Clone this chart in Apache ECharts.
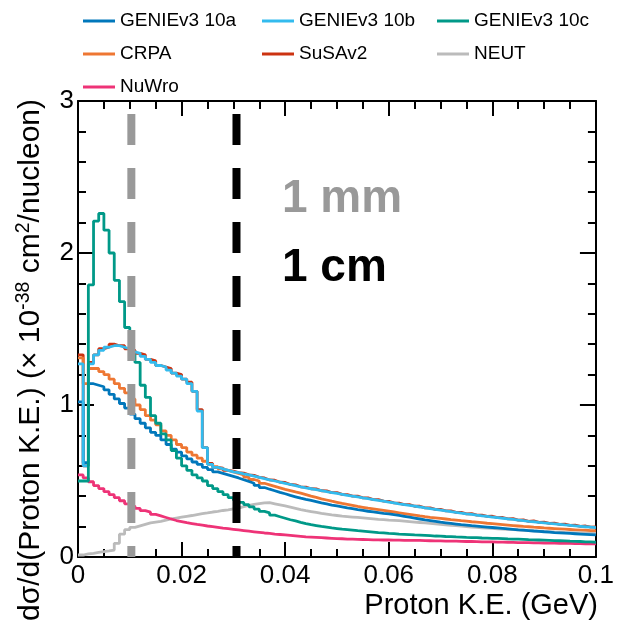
<!DOCTYPE html>
<html>
<head>
<meta charset="utf-8">
<script src="https://cdn.jsdelivr.net/npm/echarts@6/dist/echarts.min.js"></script>
<style>
  html, body { margin: 0; padding: 0; background: #fff; }
  #chart { width: 617px; height: 624px; }
</style>
</head>
<body>
<div id="chart"></div>
<script>
// Proton kinetic energy histogram: 100 bins of 1 MeV from 0 to 0.1 GeV
const binLow = 0.0;
const binHigh = 0.1;
const nBins = 100;

// Differential cross sections, 10^-38 cm^2 / nucleon / GeV
const genie10a = [
  1.02, 0.62, 1.14, 1.13, 1.12, 1.10, 1.07, 1.04, 1.01, 0.98,
  0.94, 0.91, 0.88, 0.85, 0.82, 0.80, 0.77, 0.74, 0.71, 0.69,
  0.665, 0.645, 0.625, 0.61, 0.59, 0.575, 0.56, 0.55, 0.54, 0.53,
  0.52, 0.508, 0.497, 0.485, 0.471, 0.457, 0.446, 0.436, 0.425, 0.416,
  0.405, 0.396, 0.387, 0.379, 0.372, 0.364, 0.356, 0.349, 0.342, 0.336,
  0.33, 0.323, 0.318, 0.312, 0.307, 0.301, 0.297, 0.292, 0.287, 0.283,
  0.279, 0.274, 0.268, 0.262, 0.256, 0.25, 0.244, 0.239, 0.234, 0.229,
  0.225, 0.221, 0.217, 0.213, 0.21, 0.206, 0.203, 0.2, 0.197, 0.194,
  0.191, 0.188, 0.185, 0.182, 0.179, 0.177, 0.174, 0.171, 0.169, 0.166,
  0.164, 0.161, 0.159, 0.157, 0.155, 0.153, 0.151, 0.149, 0.147, 0.145
];
const genie10b = [
  1.27, 0.60, 1.27, 1.33, 1.36, 1.38, 1.39, 1.39, 1.38, 1.37,
  1.35, 1.34, 1.32, 1.30, 1.28, 1.26, 1.25, 1.23, 1.21, 1.19,
  1.17, 1.14, 1.09, 0.96, 0.72, 0.61, 0.59, 0.58, 0.57, 0.56,
  0.555, 0.547, 0.54, 0.532, 0.524, 0.515, 0.507, 0.50, 0.492, 0.485,
  0.477, 0.47, 0.462, 0.455, 0.449, 0.443, 0.436, 0.43, 0.424, 0.418,
  0.412, 0.406, 0.40, 0.395, 0.389, 0.384, 0.378, 0.372, 0.367, 0.361,
  0.356, 0.35, 0.345, 0.339, 0.334, 0.329, 0.323, 0.318, 0.313, 0.308,
  0.303, 0.298, 0.293, 0.289, 0.284, 0.28, 0.275, 0.271, 0.267, 0.263,
  0.259, 0.255, 0.251, 0.247, 0.243, 0.239, 0.235, 0.232, 0.228, 0.225,
  0.221, 0.218, 0.215, 0.211, 0.208, 0.205, 0.202, 0.199, 0.196, 0.193
];
const genie10c = [
  0.50, 0.50, 1.79, 2.21, 2.26, 2.15, 2.00, 1.82, 1.68, 1.51,
  1.33, 1.28, 1.13, 1.05, 0.93, 0.88, 0.81, 0.77, 0.70, 0.65,
  0.60, 0.57, 0.54, 0.52, 0.50, 0.47, 0.45, 0.43, 0.41, 0.39,
  0.375, 0.36, 0.345, 0.33, 0.315, 0.30, 0.29, 0.275, 0.265, 0.255,
  0.245, 0.237, 0.228, 0.22, 0.213, 0.207, 0.201, 0.196, 0.191, 0.187,
  0.183, 0.18, 0.177, 0.173, 0.17, 0.167, 0.164, 0.161, 0.159, 0.156,
  0.154, 0.151, 0.149, 0.147, 0.145, 0.144, 0.142, 0.14, 0.138, 0.137,
  0.135, 0.134, 0.132, 0.131, 0.129, 0.128, 0.127, 0.125, 0.124, 0.123,
  0.122, 0.121, 0.119, 0.118, 0.117, 0.116, 0.114, 0.113, 0.112, 0.111,
  0.11, 0.108, 0.107, 0.106, 0.104, 0.103, 0.102, 0.1, 0.099, 0.097
];
const crpa = [
  1.31, 1.14, 1.24, 1.24, 1.22, 1.20, 1.17, 1.14, 1.11, 1.08,
  1.04, 1.00, 0.97, 0.93, 0.90, 0.87, 0.83, 0.80, 0.77, 0.74,
  0.72, 0.69, 0.67, 0.65, 0.63, 0.61, 0.595, 0.58, 0.57, 0.56,
  0.55, 0.54, 0.525, 0.51, 0.50, 0.485, 0.475, 0.465, 0.455, 0.445,
  0.437, 0.428, 0.42, 0.41, 0.40, 0.392, 0.383, 0.375, 0.367, 0.36,
  0.353, 0.347, 0.34, 0.333, 0.327, 0.321, 0.316, 0.311, 0.306, 0.301,
  0.296, 0.291, 0.286, 0.281, 0.276, 0.27, 0.265, 0.261, 0.258, 0.254,
  0.25, 0.246, 0.243, 0.239, 0.236, 0.232, 0.229, 0.226, 0.222, 0.219,
  0.216, 0.213, 0.21, 0.207, 0.204, 0.201, 0.199, 0.196, 0.194, 0.191,
  0.189, 0.187, 0.185, 0.183, 0.181, 0.179, 0.177, 0.176, 0.174, 0.173
];
const susav2 = [
  1.33, 0.60, 1.28, 1.33, 1.37, 1.38, 1.40, 1.39, 1.39, 1.37,
  1.36, 1.34, 1.33, 1.30, 1.29, 1.26, 1.25, 1.24, 1.21, 1.20,
  1.17, 1.15, 1.09, 0.97, 0.72, 0.615, 0.59, 0.585, 0.57, 0.565,
  0.555, 0.552, 0.54, 0.537, 0.524, 0.52, 0.507, 0.505, 0.492, 0.49,
  0.477, 0.475, 0.462, 0.46, 0.449, 0.448, 0.436, 0.435, 0.424, 0.423,
  0.412, 0.411, 0.40, 0.40, 0.389, 0.389, 0.378, 0.377, 0.367, 0.366,
  0.356, 0.355, 0.345, 0.344, 0.334, 0.334, 0.323, 0.323, 0.313, 0.313,
  0.303, 0.303, 0.293, 0.294, 0.284, 0.285, 0.275, 0.276, 0.267, 0.268,
  0.259, 0.26, 0.251, 0.252, 0.243, 0.244, 0.235, 0.237, 0.228, 0.23,
  0.221, 0.223, 0.215, 0.216, 0.208, 0.21, 0.202, 0.204, 0.196, 0.198
];
const neut = [
  0.013, 0.02, 0.024, 0.03, 0.035, 0.04, 0.046, 0.09, 0.15, 0.18,
  0.195, 0.205, 0.215, 0.225, 0.23, 0.235, 0.242, 0.25, 0.256, 0.262,
  0.268, 0.273, 0.279, 0.285, 0.29, 0.296, 0.30, 0.306, 0.31, 0.316,
  0.322, 0.331, 0.34, 0.346, 0.351, 0.356, 0.357, 0.35, 0.343, 0.336,
  0.328, 0.32, 0.312, 0.305, 0.299, 0.293, 0.287, 0.282, 0.277, 0.273,
  0.269, 0.266, 0.263, 0.26, 0.257, 0.254, 0.251, 0.248, 0.246, 0.243,
  0.241, 0.239, 0.236, 0.233, 0.23, 0.227, 0.224, 0.221, 0.218, 0.215,
  0.212, 0.209, 0.206, 0.203, 0.2, 0.197, 0.195, 0.192, 0.19, 0.188,
  0.186, 0.184, 0.182, 0.18, 0.178, 0.176, 0.174, 0.172, 0.17, 0.168,
  0.167, 0.165, 0.164, 0.162, 0.161, 0.159, 0.158, 0.157, 0.156, 0.155
];
const nuwro = [
  0.54, 0.52, 0.495, 0.47, 0.45, 0.43, 0.41, 0.39, 0.37, 0.35,
  0.335, 0.32, 0.305, 0.295, 0.28, 0.27, 0.26, 0.25, 0.24, 0.233,
  0.226, 0.22, 0.214, 0.209, 0.204, 0.2, 0.195, 0.19, 0.186, 0.182,
  0.178, 0.174, 0.17, 0.166, 0.162, 0.158, 0.155, 0.151, 0.148, 0.145,
  0.142, 0.139, 0.136, 0.133, 0.131, 0.129, 0.127, 0.125, 0.123, 0.121,
  0.12, 0.118, 0.117, 0.116, 0.115, 0.114, 0.113, 0.113, 0.112, 0.112,
  0.111, 0.111, 0.11, 0.11, 0.109, 0.109, 0.108, 0.107, 0.106, 0.106,
  0.105, 0.104, 0.104, 0.103, 0.102, 0.102, 0.101, 0.1, 0.1, 0.099,
  0.098, 0.098, 0.097, 0.096, 0.095, 0.095, 0.094, 0.093, 0.093, 0.092,
  0.091, 0.091, 0.09, 0.089, 0.089, 0.088, 0.088, 0.087, 0.086, 0.086
];

// Proton kinetic energy that corresponds to a 1 mm and a 1 cm track
const rangeMarkers = [
  { label: '1 mm', ke: 0.0103, color: '#999999' },
  { label: '1 cm', ke: 0.0306, color: '#000000' }
];
const markerTop = 2.915;

const xTicks = { min: 0, max: 0.1, interval: 0.02 };
const yTicks = { min: 0, max: 3, interval: 1 };

const models = [
  { name: 'SuSAv2',       data: susav2,   color: '#CC3311' },
  { name: 'CRPA',         data: crpa,     color: '#EE7733' },
  { name: 'NEUT',         data: neut,     color: '#BBBBBB' },
  { name: 'NuWro',        data: nuwro,    color: '#EE3377' },
  { name: 'GENIEv3 10a',  data: genie10a, color: '#0077BB' },
  { name: 'GENIEv3 10b',  data: genie10b, color: '#33BBEE' },
  { name: 'GENIEv3 10c',  data: genie10c, color: '#009988' }
];

const FONT = 'Liberation Sans, Arial, Helvetica, sans-serif';

function histPoints(values) {
  const w = (binHigh - binLow) / nBins;
  const pts = values.map((v, i) => [binLow + i * w, v]);
  pts.push([binHigh, values[values.length - 1]]);
  return pts;
}

const series = models.map((m, k) => ({
  name: m.name,
  type: 'line',
  step: 'end',
  symbol: 'none',
  silent: true,
  z: 2 + k,
  color: m.color,
  lineStyle: { color: m.color, width: 2.8 },
  data: histPoints(m.data)
}));

rangeMarkers.forEach((r) => {
  series.push({
    name: r.label,
    type: 'line',
    symbol: 'none',
    silent: true,
    z: 20,
    lineStyle: { color: r.color, width: 8, type: [31, 23], cap: 'butt' },
    data: [[r.ke, markerTop], [r.ke, 0]]
  });
});

// empty series bound to the mirrored top/right axes so their ticks are drawn
series.push({
  name: 'frame', type: 'line', xAxisIndex: 1, yAxisIndex: 1,
  symbol: 'none', silent: true, data: [], lineStyle: { width: 0 }
});

const frame = { show: true, onZero: false, lineStyle: { color: '#000', width: 2 } };

function xAxisDef(pos, labels) {
  return {
    type: 'value', position: pos,
    min: xTicks.min, max: xTicks.max, interval: xTicks.interval,
    axisLine: frame,
    axisTick: { show: true, inside: true, length: 15, lineStyle: { color: '#000', width: 2 } },
    minorTick: { show: true, splitNumber: 4, length: 8, lineStyle: { color: '#000', width: 2 } },
    splitLine: { show: false },
    axisLabel: { show: labels, color: '#000', fontSize: 26, fontFamily: FONT, margin: 6 }
  };
}
function yAxisDef(pos, labels) {
  return {
    type: 'value', position: pos,
    min: yTicks.min, max: yTicks.max, interval: yTicks.interval,
    axisLine: frame,
    axisTick: { show: true, inside: true, length: 16, lineStyle: { color: '#000', width: 2 } },
    minorTick: { show: true, splitNumber: 5, length: 8, lineStyle: { color: '#000', width: 2 } },
    splitLine: { show: false },
    axisLabel: { show: labels, color: '#000', fontSize: 26, fontFamily: FONT, margin: 4 }
  };
}

function legendCol(left, names) {
  return {
    orient: 'vertical', left: left, top: 11, padding: 0,
    icon: 'rect', itemWidth: 32, itemHeight: 3, itemGap: 13,
    selectedMode: false,
    data: names,
    textStyle: { color: '#000', fontSize: 19, fontFamily: FONT, lineHeight: 20, height: 20 }
  };
}

const chart = echarts.init(document.getElementById('chart'), null, { renderer: 'canvas' });
chart.setOption({
  animation: false,
  backgroundColor: '#fff',
  grid: { left: 78, right: 19, top: 101, bottom: 67, containLabel: false },
  xAxis: [xAxisDef('bottom', true), xAxisDef('top', false)],
  yAxis: [yAxisDef('left', true), yAxisDef('right', false)],
  legend: [
    legendCol(83, ['GENIEv3 10a', 'CRPA', 'NuWro']),
    legendCol(262, ['GENIEv3 10b', 'SuSAv2']),
    legendCol(437, ['GENIEv3 10c', 'NEUT'])
  ],
  series: series,
  graphic: [
    {
      type: 'text', x: 282, y: 199, z: 30,
      style: { text: rangeMarkers[0].label, fill: rangeMarkers[0].color, fontSize: 46, fontWeight: 'bold', fontFamily: FONT, align: 'left', verticalAlign: 'middle' }
    },
    {
      type: 'text', x: 282, y: 268, z: 30,
      style: { text: rangeMarkers[1].label, fill: rangeMarkers[1].color, fontSize: 46, fontWeight: 'bold', fontFamily: FONT, align: 'left', verticalAlign: 'middle' }
    },
    {
      type: 'text', x: 598, y: 606,
      style: { text: 'Proton K.E. (GeV)', fill: '#000', fontSize: 29, fontFamily: FONT, align: 'right', verticalAlign: 'middle' }
    },
    {
      type: 'text', x: 31, y: 99, rotation: Math.PI / 2,
      style: {
        text: '{a|dσ/d(Proton K.E.) (× 10}{s|-38}{a| cm}{s|2}{a|/nucleon)}',
        align: 'right', verticalAlign: 'middle',
        rich: {
          a: { fontSize: 30, fontFamily: FONT, fill: '#000', lineHeight: 35 },
          s: { fontSize: 19.5, fontFamily: FONT, fill: '#000', lineHeight: 18, verticalAlign: 'top' }
        }
      }
    }
  ]
});
</script>
</body>
</html>
